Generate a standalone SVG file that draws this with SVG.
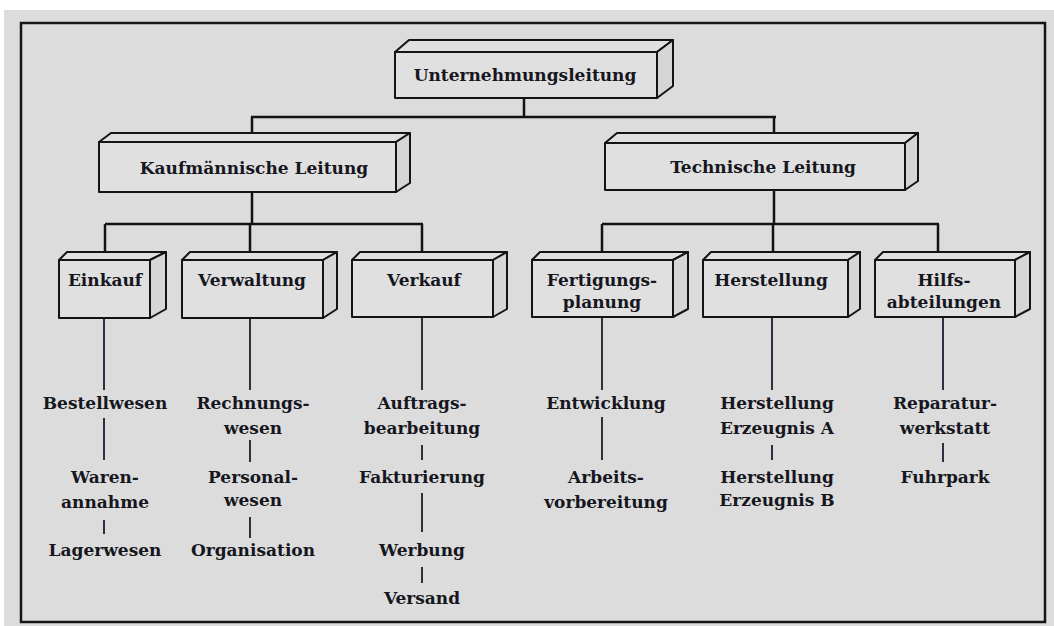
<svg xmlns="http://www.w3.org/2000/svg" width="1054" height="626" viewBox="0 0 1054 626">
<defs>
<style>
.bg{fill:#dcdcdc}
.frame{fill:none;stroke:#151515;stroke-width:2.5}
.box rect,.box polygon{fill:#e0e0e0;stroke:#141414;stroke-width:2;stroke-linejoin:round}
.box polygon.side{fill:#d6d6d6}
.lbl{font-family:"DejaVu Serif","Liberation Serif",serif;font-weight:bold;font-size:17px;fill:#16161e;text-anchor:middle}
.leaf{font-family:"DejaVu Serif","Liberation Serif",serif;font-weight:bold;font-size:17px;fill:#16161e;text-anchor:middle}
.c{stroke:#121212;stroke-width:2.5;fill:none}
.t{stroke:#1a1f2e;stroke-width:1.8;fill:none}
</style>
</defs>
<rect x="0" y="0" width="1054" height="626" fill="#ffffff"/>
<rect class="bg" x="4" y="10" width="1050" height="616"/>
<rect class="frame" x="21" y="23" width="1024" height="599"/>

<g id="connectors">
<path class="c" d="M524 98V117M251 117H776M252 117V142M774 117V143"/>
<path class="c" d="M252 192V224M105 224H423M105 224V260M250 224V260M422 224V260"/>
<path class="c" d="M774 190V224M602 224H939M602 224V260M773 224V260M938 224V260"/>
<path class="t" d="M104 318V390M104 418V460M104 520V534"/>
<path class="t" d="M250 318V390M250 440V462M250 517V538"/>
<path class="t" d="M422 317V390M422 445V460M422 493V532M422 567V583"/>
<path class="t" d="M602 317V390M602 417V460"/>
<path class="t" d="M772 317V390M772 445V460"/>
<path class="t" d="M943 317V390M943 443V462"/>
</g>

<g id="n-unternehmungsleitung" class="box">
<polygon points="395,52 409,40 673,40 657,52"/>
<polygon class="side" points="657,52 673,40 673,86 657,98"/>
<rect x="395" y="52" width="262" height="46"/>
<text class="lbl" x="525" y="81">Unternehmungsleitung</text>
</g>

<g id="n-kaufmaennische" class="box">
<polygon points="99,142 111,133 410,133 396,142"/>
<polygon class="side" points="396,142 410,133 410,183 396,192"/>
<rect x="99" y="142" width="297" height="50"/>
<text class="lbl" x="254" y="174">Kaufmännische Leitung</text>
</g>

<g id="n-technische" class="box">
<polygon points="605,143 617,133 918,133 905,143"/>
<polygon class="side" points="905,143 918,133 918,181 905,190"/>
<rect x="605" y="143" width="300" height="47"/>
<text class="lbl" x="763" y="173">Technische Leitung</text>
</g>

<g id="n-einkauf" class="box">
<polygon points="59,260 67,252 166,252 150,260"/>
<polygon class="side" points="150,260 166,252 166,309 150,318"/>
<rect x="59" y="260" width="91" height="58"/>
<text class="lbl" x="105" y="286">Einkauf</text>
</g>

<g id="n-verwaltung" class="box">
<polygon points="182,260 190,252 337,252 323,260"/>
<polygon class="side" points="323,260 337,252 337,309 323,318"/>
<rect x="182" y="260" width="141" height="58"/>
<text class="lbl" x="252" y="286">Verwaltung</text>
</g>

<g id="n-verkauf" class="box">
<polygon points="352,260 360,252 507,252 493,260"/>
<polygon class="side" points="493,260 507,252 507,309 493,317"/>
<rect x="352" y="260" width="141" height="57"/>
<text class="lbl" x="424" y="286">Verkauf</text>
</g>

<g id="n-fertigungsplanung" class="box">
<polygon points="532,260 540,252 688,252 673,260"/>
<polygon class="side" points="673,260 688,252 688,309 673,317"/>
<rect x="532" y="260" width="141" height="57"/>
<text class="lbl" x="602" y="286">Fertigungs-</text>
<text class="lbl" x="602" y="308">planung</text>
</g>

<g id="n-herstellung" class="box">
<polygon points="703,260 711,252 860,252 848,260"/>
<polygon class="side" points="848,260 860,252 860,309 848,317"/>
<rect x="703" y="260" width="145" height="57"/>
<text class="lbl" x="771" y="286">Herstellung</text>
</g>

<g id="n-hilfsabteilungen" class="box">
<polygon points="875,260 883,252 1030,252 1015,260"/>
<polygon class="side" points="1015,260 1030,252 1030,309 1015,317"/>
<rect x="875" y="260" width="140" height="57"/>
<text class="lbl" x="944" y="286">Hilfs-</text>
<text class="lbl" x="944" y="308">abteilungen</text>
</g>

<g id="leaves-einkauf">
<text class="leaf" x="105" y="409">Bestellwesen</text>
<text class="leaf" x="105" y="483">Waren-</text>
<text class="leaf" x="105" y="508">annahme</text>
<text class="leaf" x="105" y="556">Lagerwesen</text>
</g>
<g id="leaves-verwaltung">
<text class="leaf" x="253" y="409">Rechnungs-</text>
<text class="leaf" x="253" y="434">wesen</text>
<text class="leaf" x="253" y="483">Personal-</text>
<text class="leaf" x="253" y="506">wesen</text>
<text class="leaf" x="253" y="556">Organisation</text>
</g>
<g id="leaves-verkauf">
<text class="leaf" x="422" y="409">Auftrags-</text>
<text class="leaf" x="422" y="434">bearbeitung</text>
<text class="leaf" x="422" y="483">Fakturierung</text>
<text class="leaf" x="422" y="556">Werbung</text>
<text class="leaf" x="422" y="604">Versand</text>
</g>
<g id="leaves-fertigung">
<text class="leaf" x="606" y="409">Entwicklung</text>
<text class="leaf" x="606" y="483">Arbeits-</text>
<text class="leaf" x="606" y="508">vorbereitung</text>
</g>
<g id="leaves-herstellung">
<text class="leaf" x="777" y="409">Herstellung</text>
<text class="leaf" x="777" y="434">Erzeugnis A</text>
<text class="leaf" x="777" y="483">Herstellung</text>
<text class="leaf" x="777" y="506">Erzeugnis B</text>
</g>
<g id="leaves-hilfs">
<text class="leaf" x="945" y="409">Reparatur-</text>
<text class="leaf" x="945" y="434">werkstatt</text>
<text class="leaf" x="945" y="483">Fuhrpark</text>
</g>
</svg>
